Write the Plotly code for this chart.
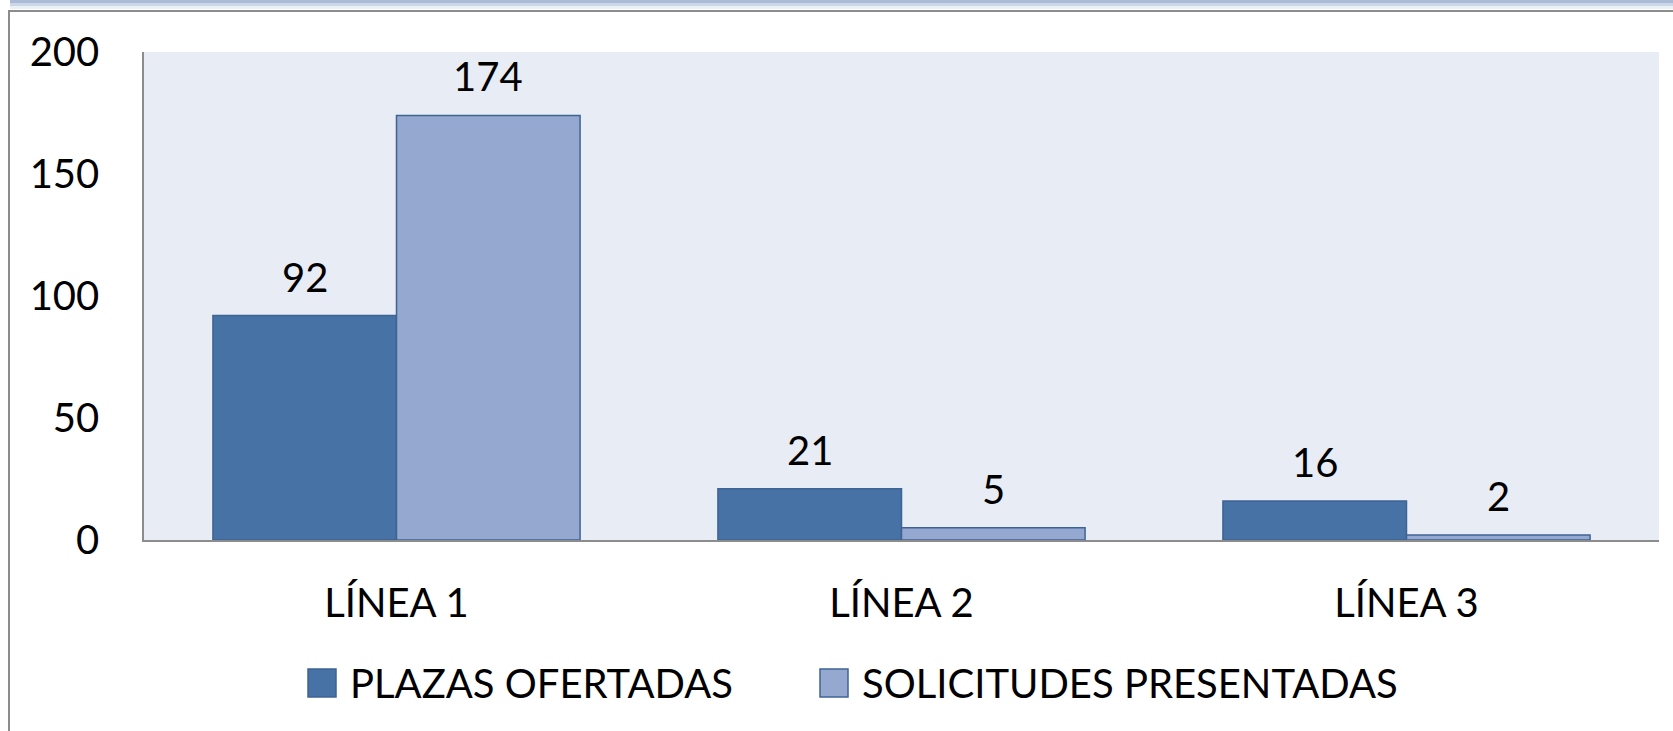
import plotly.graph_objects as go

categories = ["LÍNEA 1", "LÍNEA 2", "LÍNEA 3"]
series_names = ["PLAZAS OFERTADAS", "SOLICITUDES PRESENTADAS"]
plazas = [92, 21, 16]
solicitudes = [174, 5, 2]
y_ticks = [0, 50, 100, 150, 200]

values = [plazas, solicitudes]
fills = ["#4672A6", "#95A9D0"]
edge = "#3F6395"
FONT = "Lato"
FS = 40

W, H = 1673, 731
L, R, T, B = 144, 14, 52, 191
pw, ph = W - L - R, H - T - B

def px(x):
    return (x - L) / pw

def py(y):
    return (H - B - y) / ph

bargap = 0.273
n = len(series_names)
bw = (1 - bargap) / n
xs = list(range(len(categories)))

fig = go.Figure()
for k in range(n):
    off = -(1 - bargap) / 2 + bw * (k + 0.5)
    fig.add_trace(go.Bar(
        x=[x + off for x in xs], y=values[k], width=bw, name=series_names[k],
        marker=dict(color=fills[k], line=dict(color=edge, width=1.5)),
        showlegend=False,
    ))
    for x, v in zip(xs, values[k]):
        fig.add_annotation(x=x + off, y=v, text=str(v), showarrow=False,
                           xref="x", yref="y", yanchor="middle", yshift=39,
                           font=dict(family=FONT, size=FS, color="black"))

# manual legend
leg_x = [308, 820]
for k in range(n):
    fig.add_shape(type="rect", xref="paper", yref="paper",
                  x0=px(leg_x[k]), x1=px(leg_x[k] + 28), y0=py(697), y1=py(669),
                  fillcolor=fills[k], line=dict(color=edge, width=1.5))
    fig.add_annotation(x=px(leg_x[k] + 40), y=py(683), xref="paper", yref="paper",
                       text=series_names[k], showarrow=False, xanchor="left", yanchor="middle",
                       font=dict(family=FONT, size=FS, color="black"))

# page frame
strip = [(0, 3, "#A9BBD6"), (3, 6, "#CBD6E7"), (6, 9, "#EBF0F6")]
for y0, y1, c in strip:
    fig.add_shape(type="rect", xref="paper", yref="paper", x0=px(10), x1=px(W), y0=py(y1), y1=py(y0),
                  fillcolor=c, line=dict(width=0), layer="below")
fig.add_shape(type="line", xref="paper", yref="paper", x0=px(9), x1=px(W), y0=py(11), y1=py(11),
              line=dict(color="#8C8C8C", width=2))
fig.add_shape(type="line", xref="paper", yref="paper", x0=px(9), x1=px(9), y0=py(10), y1=py(H),
              line=dict(color="#8C8C8C", width=2))

fig.update_layout(
    width=W, height=H,
    margin=dict(l=L, r=R, t=T, b=B, pad=0),
    paper_bgcolor="white", plot_bgcolor="#E8ECF4",
    barmode="overlay", bargap=bargap,
    font=dict(family=FONT, size=FS, color="black"),
    xaxis=dict(range=[-0.5, len(categories) - 0.5], tickvals=xs, ticktext=categories,
               showgrid=False, zeroline=False, showline=True, linecolor="#8C8C8C", linewidth=1.5,
               ticks="", ticklabelstandoff=27, tickfont=dict(family=FONT, size=FS)),
    yaxis=dict(range=[0, 200], tickvals=y_ticks, showgrid=False, zeroline=False,
               showline=True, linecolor="#8C8C8C", linewidth=1.5, ticks="",
               ticklabelstandoff=35, tickfont=dict(family=FONT, size=FS)),
)

fig.write_html("out.html", config={"displayModeBar": False},
               post_script="document.body.style.margin='0';")
